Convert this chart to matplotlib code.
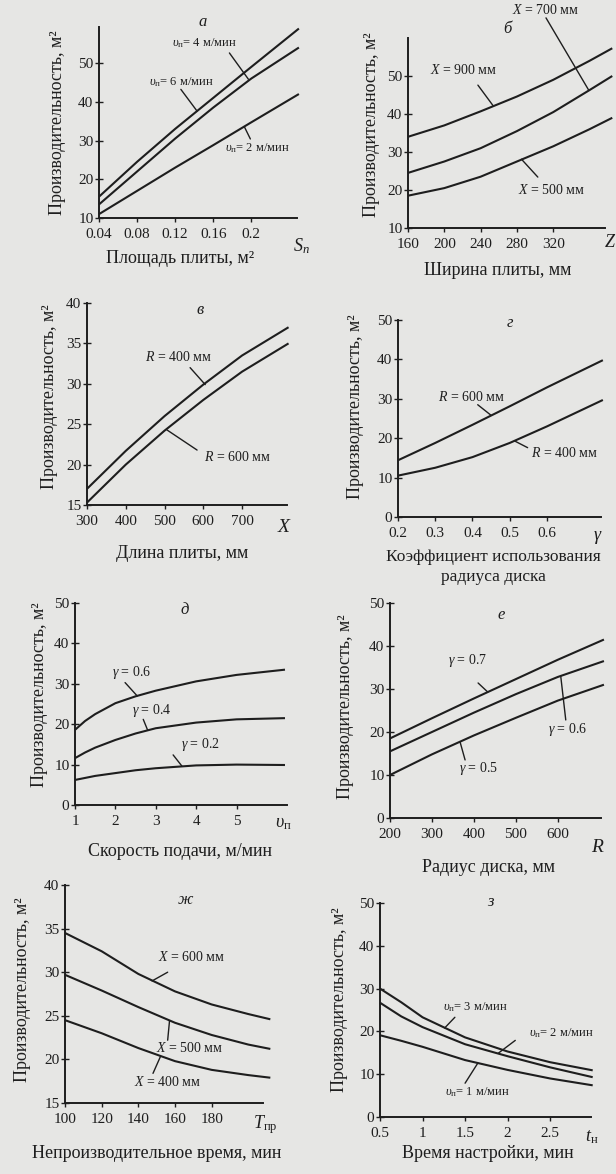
import matplotlib
matplotlib.use('Agg')
import matplotlib.pyplot as plt

plt.rcParams['font.family'] = ['Liberation Serif', 'DejaVu Serif']
plt.rcParams['mathtext.fontset'] = 'custom'
plt.rcParams['mathtext.rm'] = 'Liberation Serif'
plt.rcParams['mathtext.it'] = 'Liberation Serif:italic'

# --- а: productivity vs slab area
a_area = [0.04, 0.08, 0.12, 0.16, 0.20, 0.25]
a_v6 = [15.5, 24.5, 33, 41, 49, 58.9]
a_v4 = [13.5, 22, 30.5, 38.5, 46, 54]
a_v2 = [11, 17, 23, 28.8, 34.7, 42]
a_xticks = [0.04, 0.08, 0.12, 0.16, 0.2]
a_xticklabels = ['0.04', '0.08', '0.12', '0.16', '0.2']

# --- б: vs slab width
b_width = [160, 200, 240, 280, 320, 360, 385]
b_x900 = [34, 37, 40.7, 44.6, 49, 54, 57.3]
b_x700 = [24.5, 27.5, 31, 35.5, 40.5, 46.3, 50]
b_x500 = [18.5, 20.5, 23.5, 27.5, 31.5, 36, 39]

# --- в: vs slab length
c_len = [300, 400, 500, 600, 700, 820]
c_r400 = [17, 21.7, 26, 29.9, 33.5, 37]
c_r600 = [15.3, 20, 24.2, 28, 31.5, 35]

# --- г: vs disc radius usage coefficient
d_gamma = [0.2, 0.3, 0.4, 0.5, 0.6, 0.75]
d_r600 = [14.4, 18.8, 23.4, 28.1, 32.9, 39.8]
d_r400 = [10.5, 12.5, 15.2, 18.8, 23, 29.7]
d_xticklabels = ['0.2', '0.3', '0.4', '0.5', '0.6']

# --- д: vs feed speed
e_speed = [1, 1.25, 1.5, 2, 2.5, 3, 4, 5, 6.2]
e_g06 = [18.6, 20.8, 22.5, 25.2, 26.9, 28.3, 30.6, 32.2, 33.5]
e_g04 = [11.6, 13, 14.2, 16.1, 17.7, 19, 20.4, 21.2, 21.5]
e_g02 = [6.2, 6.7, 7.2, 7.9, 8.6, 9.1, 9.8, 10, 9.9]

# --- е: vs disc radius
f_radius = [200, 300, 400, 500, 600, 710]
f_g07 = [18.5, 23.2, 27.8, 32.3, 36.8, 41.5]
f_g06 = [15.5, 20, 24.5, 28.8, 32.8, 36.5]
f_g05 = [10, 14.8, 19.2, 23.3, 27.3, 31]

# --- ж: vs non-productive time
g_time = [100, 120, 140, 160, 180, 200, 212]
g_x600 = [34.5, 32.4, 29.8, 27.8, 26.3, 25.2, 24.6]
g_x500 = [29.7, 27.9, 26, 24.2, 22.8, 21.7, 21.2]
g_x400 = [24.5, 23, 21.3, 19.8, 18.8, 18.2, 17.9]

# --- з: vs setup time
h_setup = [0.5, 0.75, 1, 1.5, 2, 2.5, 3]
h_v3 = [30, 26.8, 23.3, 18.6, 15.3, 12.8, 10.9]
h_v2 = [26.7, 23.5, 21, 17, 14.2, 11.6, 9.3]
h_v1 = [19.1, 17.8, 16.4, 13.3, 11, 9, 7.4]
h_xticklabels = ['0.5', '1', '1.5', '2', '2.5']

W, H = 616, 1174
BG = '#e6e6e4'
INK = '#1e1e1e'
YLAB = 'Производительность, м²'

fig = plt.figure(figsize=(W / 100, H / 100), dpi=100, facecolor=BG)


def ptext(x, y, s, **kw):
    kw.setdefault('color', INK)
    fig.text(x / W, 1 - y / H, s, ha=kw.pop('ha', 'center'), va=kw.pop('va', 'center'), **kw)


def make_ax(l, r, t, b, xlim, ylim, xticks, yticks, xticklabels=None):
    ax = fig.add_axes([l / W, 1 - b / H, (r - l) / W, (b - t) / H])
    ax.set_facecolor('none')
    for s in ('top', 'right'):
        ax.spines[s].set_visible(False)
    for s in ('left', 'bottom'):
        ax.spines[s].set_linewidth(1.4)
        ax.spines[s].set_color(INK)
    ax.set_xlim(xlim)
    ax.set_ylim(ylim)
    ax.set_xticks(xticks)
    if xticklabels:
        ax.set_xticklabels(xticklabels)
    ax.set_yticks(yticks)
    ax.tick_params(axis='y', direction='inout', length=6, width=1, labelsize=11, pad=1, colors=INK)
    ax.tick_params(axis='x', direction='out', length=3, width=1, labelsize=11, pad=4, colors=INK)
    return ax


def curve(ax, x, y):
    ax.plot(x, y, color=INK, lw=1.5, clip_on=False, solid_capstyle='butt', solid_joinstyle='round')


def label(ax, s, pos, start, end, size=10):
    ax.text(pos[0], pos[1], s, fontsize=size, ha='center', va='center', color=INK, clip_on=False)
    ax.annotate('', xy=end, xytext=start,
                arrowprops=dict(arrowstyle='-', lw=1.0, color=INK, shrinkA=0, shrinkB=0),
                annotation_clip=False)


V = r'$\mathit{\upsilon}_{\mathrm{п}}$'

# а
ax = make_ax(99, 297, 27, 218, (0.04, 0.248), (10, 59.3), a_xticks, [10, 20, 30, 40, 50], a_xticklabels)
curve(ax, a_area, a_v6)
curve(ax, a_area, a_v4)
curve(ax, a_area, a_v2)
label(ax, V + '= 4 м/мин', (0.151, 55.2), (0.177, 52.6), (0.197, 45.8), 9)
label(ax, V + '= 6 м/мин', (0.126, 45.1), (0.126, 43.2), (0.143, 37.6), 9)
label(ax, V + '= 2 м/мин', (0.206, 28), (0.199, 30.4), (0.193, 33.4), 9)
ptext(203, 22, 'а', fontsize=12, style='italic')
ptext(301, 246, r'$S_{п}$', fontsize=13)
ptext(180, 258, 'Площадь плиты, м²', fontsize=13)
ptext(58, 123, YLAB, fontsize=13, rotation=90)

# б
ax = make_ax(408, 605, 38, 228, (160, 377), (10, 60), [160, 200, 240, 280, 320], [10, 20, 30, 40, 50])
curve(ax, b_width, b_x900)
curve(ax, b_width, b_x700)
curve(ax, b_width, b_x500)
label(ax, r'$X$ = 700 мм', (312, 67.3), (312, 65.3), (359, 46.3))
label(ax, r'$X$ = 900 мм', (221, 51.6), (237, 47.6), (254, 42.1))
label(ax, r'$X$ = 500 мм', (318, 20), (303, 23.4), (285, 28.1))
ptext(507, 29, 'б', fontsize=12, style='italic')
ptext(610, 242, r'$Z$', fontsize=13)
ptext(498, 270, 'Ширина плиты, мм', fontsize=13)
ptext(371, 125, YLAB, fontsize=13, rotation=90)

# в
ax = make_ax(87, 287, 303, 505, (300, 816), (15, 40), [300, 400, 500, 600, 700], [15, 20, 25, 30, 35, 40])
curve(ax, c_len, c_r400)
curve(ax, c_len, c_r600)
label(ax, r'$R$ = 400 мм', (535, 33.3), (566, 32), (605, 29.9))
label(ax, r'$R$ = 600 мм', (687, 20.9), (584, 21.8), (506, 24.3))
ptext(200, 310, 'в', fontsize=12, style='italic')
ptext(285, 527, r'$X$', fontsize=14)
ptext(182, 553, 'Длина плиты, мм', fontsize=13)
ptext(50, 397, YLAB, fontsize=13, rotation=90)

# г
ax = make_ax(398, 601, 320, 517, (0.2, 0.745), (0, 50), [0.2, 0.3, 0.4, 0.5, 0.6], [0, 10, 20, 30, 40, 50], d_xticklabels)
curve(ax, d_gamma, d_r600)
curve(ax, d_gamma, d_r400)
label(ax, r'$R$ = 600 мм', (0.396, 30.5), (0.414, 28.5), (0.45, 25.8))
label(ax, r'$R$ = 400 мм', (0.648, 16.3), (0.548, 17.6), (0.513, 19.3))
ptext(510, 323, 'г', fontsize=12, style='italic')
ptext(598, 537, r'$\gamma$', fontsize=13)
ptext(493, 557, 'Коэффициент использования', fontsize=12.5)
ptext(493, 577, 'радиуса диска', fontsize=12.5)
ptext(355, 407, YLAB, fontsize=13, rotation=90)

# д
ax = make_ax(75, 287, 603, 805, (1, 6.25), (0, 50), [1, 2, 3, 4, 5], [0, 10, 20, 30, 40, 50])
curve(ax, e_speed, e_g06)
curve(ax, e_speed, e_g04)
curve(ax, e_speed, e_g02)
label(ax, r'$\gamma$ = 0.6', (2.41, 32.8), (2.24, 30.3), (2.54, 27.0))
label(ax, r'$\gamma$ = 0.4', (2.91, 23.3), (2.69, 21.2), (2.8, 18.5))
label(ax, r'$\gamma$ = 0.2', (4.1, 14.9), (3.43, 12.4), (3.65, 9.6))
ptext(185, 610, 'д', fontsize=12, style='italic')
ptext(283, 823, V, fontsize=13)
ptext(180, 852, 'Скорость подачи, м/мин', fontsize=13)
ptext(40, 695, YLAB, fontsize=13, rotation=90)

# е
ax = make_ax(390, 601, 603, 818, (200, 703), (0, 50), [200, 300, 400, 500, 600], [0, 10, 20, 30, 40, 50])
curve(ax, f_radius, f_g07)
curve(ax, f_radius, f_g06)
curve(ax, f_radius, f_g05)
label(ax, r'$\gamma$ = 0.7', (386, 36.7), (410, 31.4), (433, 29.3))
label(ax, r'$\gamma$ = 0.6', (624, 20.5), (619, 22.8), (607, 33.0))
label(ax, r'$\gamma$ = 0.5', (410, 11.6), (379, 13.5), (367, 17.7))
ptext(501, 615, 'е', fontsize=12, style='italic')
ptext(598, 847, r'$R$', fontsize=14)
ptext(488, 868, 'Радиус диска, мм', fontsize=13)
ptext(345, 707, YLAB, fontsize=13, rotation=90)

# ж
ax = make_ax(65, 263, 885, 1103, (100, 208), (15, 40), [100, 120, 140, 160, 180], [15, 20, 25, 30, 35, 40])
curve(ax, g_time, g_x600)
curve(ax, g_time, g_x500)
curve(ax, g_time, g_x400)
label(ax, r'$X$ = 600 мм', (169, 31.7), (156, 30.0), (147.5, 29.0))
label(ax, r'$X$ = 500 мм', (168, 21.3), (156, 22.2), (157, 24.4))
label(ax, r'$X$ = 400 мм', (156, 17.4), (148, 18.4), (152, 20.3))
ptext(185, 900, 'ж', fontsize=12, style='italic')
ptext(265, 1125, r'$T_{\mathrm{пр}}$', fontsize=13)
ptext(157, 1153, 'Непроизводительное время, мин', fontsize=13)
ptext(23, 990, YLAB, fontsize=13, rotation=90)

# з
ax = make_ax(380, 591, 903, 1117, (0.5, 2.98), (0, 50), [0.5, 1, 1.5, 2, 2.5], [0, 10, 20, 30, 40, 50], h_xticklabels)
curve(ax, h_setup, h_v3)
curve(ax, h_setup, h_v2)
curve(ax, h_setup, h_v1)
label(ax, V + '= 3 м/мин', (1.62, 25.6), (1.38, 23.3), (1.26, 20.8), 9)
label(ax, V + '= 2 м/мин', (2.63, 19.5), (2.09, 17.9), (1.89, 14.9), 9)
label(ax, V + '= 1 м/мин', (1.65, 5.8), (1.5, 7.9), (1.65, 12.6), 9)
ptext(490, 902, 'з', fontsize=12, style='italic')
ptext(592, 1137, r'$t_{\mathrm{н}}$', fontsize=13)
ptext(488, 1153, 'Время настройки, мин', fontsize=13)
ptext(340, 1000, YLAB, fontsize=13, rotation=90)

fig.savefig('out.png', dpi=100, facecolor=BG)
